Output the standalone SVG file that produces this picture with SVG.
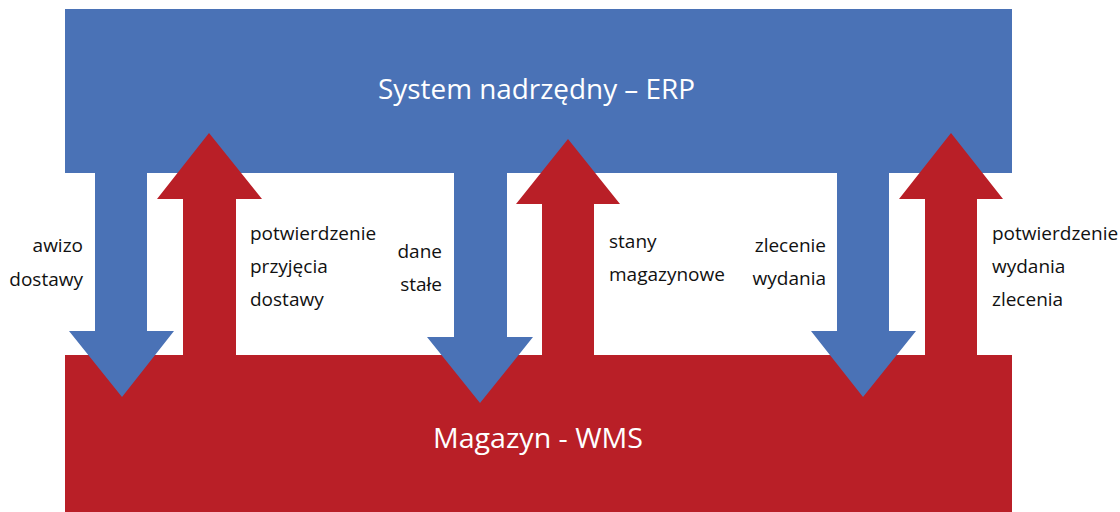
<svg xmlns="http://www.w3.org/2000/svg" width="1120" height="512" viewBox="0 0 1120 512">
<style>
.blue{fill:#4A72B6}
.red{fill:#B91F27}
.title{font-family:"Open Sans","Liberation Sans",sans-serif;font-size:27px;fill:#fff;text-anchor:middle}
.lbl{font-family:"Open Sans","Liberation Sans",sans-serif;font-size:19px;fill:#111}
.r{text-anchor:end}
</style>
<rect width="1120" height="512" fill="#fff"/>
<g id="erp">
<rect class="blue" x="65" y="9" width="947" height="164"/>
<text class="title" x="536.5" y="99" textLength="317" lengthAdjust="spacingAndGlyphs">System nadrzędny – ERP</text>
</g>
<g id="wms">
<rect class="red" x="65" y="355" width="947" height="157"/>
<text class="title" x="538" y="448" textLength="210" lengthAdjust="spacingAndGlyphs">Magazyn - WMS</text>
</g>
<g id="connectors">
<polygon class="blue" points="95,165 147,165 147,331 174,331 122,397 69,331 95,331"/>
<polygon class="blue" points="454,165 507,165 507,337 533,337 480,403 427,337 454,337"/>
<polygon class="blue" points="837,165 889,165 889,331 916,331 863,397 811,331 837,331"/>
<polygon class="red" points="183,362 236,362 236,199 262,199 209,133 157,199 183,199"/>
<polygon class="red" points="542,362 594,362 594,204 620,204 568,139 516,204 542,204"/>
<polygon class="red" points="925,362 977,362 977,199 1003,199 951,133 899,199 925,199"/>
</g>
<g id="labels">
<text class="lbl r" x="83" y="252">awizo</text>
<text class="lbl r" x="83" y="286">dostawy</text>
<text class="lbl" x="250" y="240">potwierdzenie</text>
<text class="lbl" x="250" y="273">przyjęcia</text>
<text class="lbl" x="250" y="306">dostawy</text>
<text class="lbl r" x="442" y="258">dane</text>
<text class="lbl r" x="442" y="291">stałe</text>
<text class="lbl" x="609" y="248">stany</text>
<text class="lbl" x="609" y="281">magazynowe</text>
<text class="lbl r" x="826" y="252">zlecenie</text>
<text class="lbl r" x="826" y="285">wydania</text>
<text class="lbl" x="992" y="240">potwierdzenie</text>
<text class="lbl" x="992" y="273">wydania</text>
<text class="lbl" x="992" y="306">zlecenia</text>
</g>
</svg>
